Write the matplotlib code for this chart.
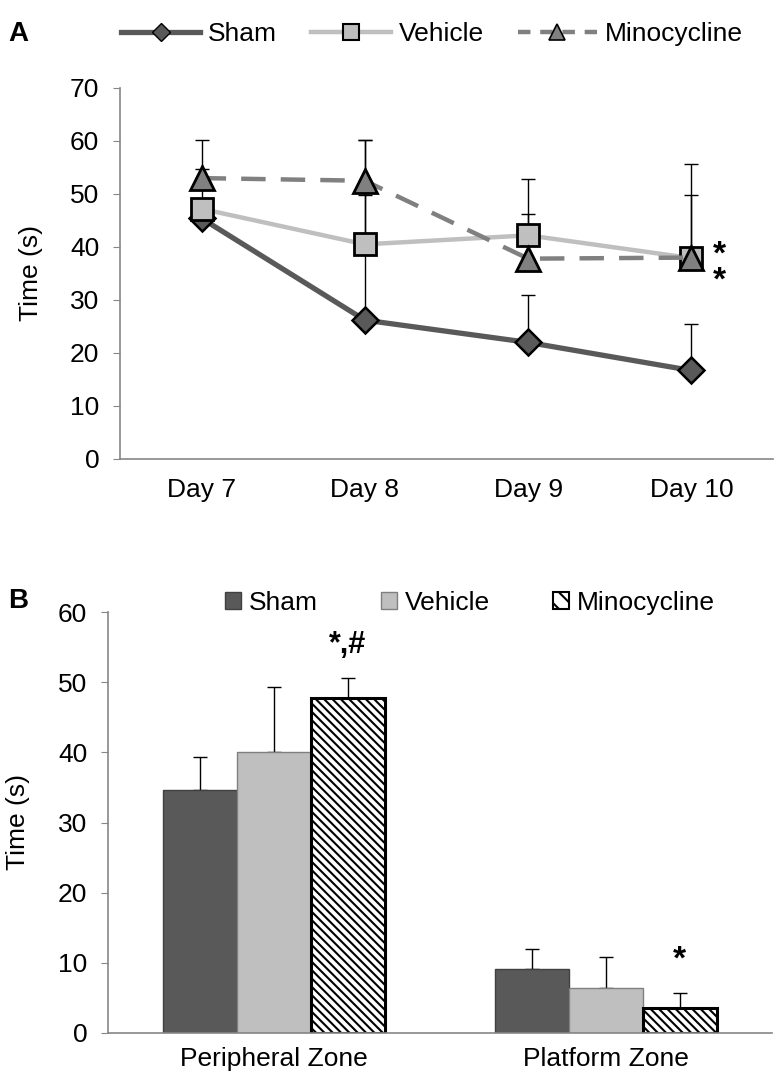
import numpy as np
import matplotlib
matplotlib.use('Agg')
from matplotlib import pyplot as plt
from matplotlib.lines import Line2D
from matplotlib.patches import Patch

plt.rcParams['font.family'] = ['Liberation Sans', 'DejaVu Sans']
plt.rcParams['hatch.linewidth'] = 1.5

# panel A data (time in seconds)
days = ['Day 7', 'Day 8', 'Day 9', 'Day 10']
sham_a = [45.4, 26.2, 22.0, 16.7]
vehicle_a = [47.2, 40.5, 42.2, 37.9]
mino_a = [53.0, 52.5, 37.8, 38.0]
sham_a_err = [1.5, 23.6, 8.9, 8.8]
vehicle_a_err = [7.6, 19.6, 10.6, 17.7]
mino_a_err = [7.1, 7.7, 8.5, 11.8]

# panel B data
zones = ['Peripheral Zone', 'Platform Zone']
sham_b = [34.7, 9.1]
vehicle_b = [40.0, 6.4]
mino_b = [47.8, 3.6]
sham_b_err = [4.7, 2.9]
vehicle_b_err = [9.3, 4.5]
mino_b_err = [2.8, 2.1]

dark = '#595959'
light = '#bfbfbf'
mid = '#808080'
spine = '#868686'
fs = 19

W, H = 780, 1089
fig = plt.figure(figsize=(W / 100, H / 100), dpi=100)


def px_axes(l, r, t, b):
    return fig.add_axes([l / W, 1 - b / H, (r - l) / W, (b - t) / H])


def style(ax, xpad):
    for s in ['top', 'right']:
        ax.spines[s].set_visible(False)
    for s in ['left', 'bottom']:
        ax.spines[s].set_color(spine)
        ax.spines[s].set_linewidth(1.2)
    ax.tick_params(axis='y', length=5, color=spine, labelsize=fs, pad=10)
    ax.tick_params(axis='x', length=0, labelsize=fs, pad=xpad)


# ---- panel A ----
ax1 = px_axes(120, 773, 88, 459)
x = np.arange(len(days))
for vals, err in [(sham_a, sham_a_err), (vehicle_a, vehicle_a_err), (mino_a, mino_a_err)]:
    ax1.errorbar(x, vals, yerr=[np.zeros(len(vals)), err], fmt='none',
                 ecolor='black', elinewidth=1, capsize=5, capthick=1, zorder=2)
ax1.plot(x, sham_a, color=dark, lw=3.8, marker='D', ms=13, mfc=dark,
         mec='black', mew=1.8, zorder=3)
ax1.plot(x, vehicle_a, color=light, lw=3.2, marker='s', ms=16, mfc=light,
         mec='black', mew=2, zorder=4)
ax1.plot(x, mino_a, color=mid, lw=3.2, dashes=(5.5, 3.4), marker='^', ms=17,
         mfc=mid, mec='black', mew=2, zorder=5)
# two stacked asterisks (Vehicle and Minocycline vs Sham)
ax1.text(3.17, 36.0, '*\n*', fontsize=24, fontweight='bold', ha='center',
         va='center', linespacing=0.8)
ax1.set_xlim(-0.5, 3.5)
ax1.set_ylim(0, 70)
ax1.set_yticks(np.arange(0, 71, 10))
ax1.set_xticks(x)
ax1.set_xticklabels(days)
ax1.set_ylabel('Time (s)', fontsize=fs)
ax1.yaxis.set_label_coords(-0.118, 0.5)
style(ax1, 14)

handles_a = [
    Line2D([], [], color=dark, lw=3.8, marker='D', ms=9, mfc=dark, mec='black', mew=1),
    Line2D([], [], color=light, lw=3.2, marker='s', ms=12, mfc=light, mec='black', mew=1.5),
    Line2D([], [], color=mid, lw=3.2, dashes=(2.8, 2.2), marker='^', ms=12, mfc=mid, mec='black', mew=1.2),
]
fig.legend(handles_a, ['Sham', 'Vehicle', 'Minocycline'], loc='center',
           bbox_to_anchor=(432 / W, 1 - 34 / H), ncol=3, frameon=False,
           fontsize=fs, handlelength=3.0, columnspacing=1.3, handletextpad=0.3,
           borderpad=0, borderaxespad=0)
fig.text(8 / W, 1 - 34 / H, 'A', fontsize=20, fontweight='bold', va='center')

# ---- panel B ----
ax2 = px_axes(108, 772, 612, 1033)
xb = np.arange(len(zones))
w = 2 / 9
ax2.bar(xb - w, sham_b, w, color=dark, edgecolor='#404040', lw=1, zorder=2)
ax2.bar(xb, vehicle_b, w, color=light, edgecolor='#808080', lw=1, zorder=2)
ax2.bar(xb + w, mino_b, w, color='white', edgecolor='black', lw=2.2,
        hatch='\\\\\\\\', zorder=2)
for off, vals, err in [(-w, sham_b, sham_b_err), (0, vehicle_b, vehicle_b_err), (w, mino_b, mino_b_err)]:
    ax2.errorbar(xb + off, vals, yerr=[np.zeros(len(vals)), err], fmt='none',
                 ecolor='black', elinewidth=1, capsize=5, capthick=1, zorder=1)
ax2.text(w, 55.3, '*,#', fontsize=22, fontweight='bold', ha='center', va='center')
ax2.text(1 + w, 10.4, '*', fontsize=24, fontweight='bold', ha='center', va='center')
ax2.set_xlim(-0.5, 1.5)
ax2.set_ylim(0, 60)
ax2.set_yticks(np.arange(0, 61, 10))
ax2.set_xticks(xb)
ax2.set_xticklabels(zones)
ax2.set_ylabel('Time (s)', fontsize=fs)
ax2.yaxis.set_label_coords(-0.118, 0.5)
style(ax2, 10)

handles_b = [
    Patch(facecolor=dark, edgecolor='#404040'),
    Patch(facecolor=light, edgecolor='#808080'),
    Patch(facecolor='white', edgecolor='black', hatch='\\\\', lw=1.5),
]
fig.legend(handles_b, ['Sham', 'Vehicle', 'Minocycline'], loc='center',
           bbox_to_anchor=(470 / W, 1 - 603 / H), ncol=3, frameon=False,
           fontsize=fs, handlelength=0.6, handleheight=0.6, columnspacing=2.4,
           handletextpad=0.3, borderpad=0, borderaxespad=0)
fig.text(8 / W, 1 - 601 / H, 'B', fontsize=20, fontweight='bold', va='center')

fig.savefig('out.png', dpi=100)
